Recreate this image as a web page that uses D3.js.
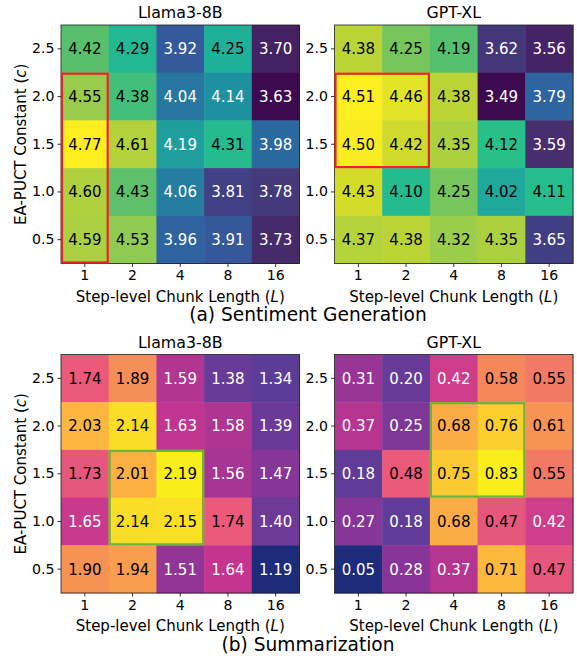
<!DOCTYPE html>
<html>
<head>
<meta charset="utf-8">
<script src="https://cdn.jsdelivr.net/npm/d3@7"></script>
<style>
  body { margin: 0; background: #fff; }
  svg text { font-family: "DejaVu Sans", sans-serif; fill: #000; }
</style>
</head>
<body>
<svg id="chart" width="577" height="658"></svg>
<script>
// chunk lengths (columns) and EA-PUCT constants (rows, top to bottom)
var chunkLengths = ["1", "2", "4", "8", "16"];
var puctConstants = ["2.5", "2.0", "1.5", "1.0", "0.5"];

var sentimentLlama = [
    [4.42, 4.29, 3.92, 4.25, 3.70],
    [4.55, 4.38, 4.04, 4.14, 3.63],
    [4.77, 4.61, 4.19, 4.31, 3.98],
    [4.60, 4.43, 4.06, 3.81, 3.78],
    [4.59, 4.53, 3.96, 3.91, 3.73]
];
var sentimentGpt = [
    [4.38, 4.25, 4.19, 3.62, 3.56],
    [4.51, 4.46, 4.38, 3.49, 3.79],
    [4.50, 4.42, 4.35, 4.12, 3.59],
    [4.43, 4.10, 4.25, 4.02, 4.11],
    [4.37, 4.38, 4.32, 4.35, 3.65]
];
var summaryLlama = [
    [1.74, 1.89, 1.59, 1.38, 1.34],
    [2.03, 2.14, 1.63, 1.58, 1.39],
    [1.73, 2.01, 2.19, 1.56, 1.47],
    [1.65, 2.14, 2.15, 1.74, 1.40],
    [1.90, 1.94, 1.51, 1.64, 1.19]
];
var summaryGpt = [
    [0.31, 0.20, 0.42, 0.58, 0.55],
    [0.37, 0.25, 0.68, 0.76, 0.61],
    [0.18, 0.48, 0.75, 0.83, 0.55],
    [0.27, 0.18, 0.68, 0.47, 0.42],
    [0.05, 0.28, 0.37, 0.71, 0.47]
];

// highlighted block: [first col, last col, first row, last row]
var highlightSentLlama = ["1", "1", "2.0", "0.5"];
var highlightSentGpt = ["1", "2", "2.0", "1.5"];
var highlightSumLlama = ["2", "4", "1.5", "1.0"];
var highlightSumGpt = ["4", "8", "2.0", "1.5"];

// colour maps as seen in the figure (viridis-like and plasma-like)
var viridisLike = d3.scaleLinear()
    .domain([0, 0.1, 0.2, 0.3, 0.45, 0.55, 0.62, 0.7, 0.82, 0.9, 1])
    .range(["#3e0a4f", "#47306f", "#3d4b94", "#2d66a0", "#1e92a0", "#1fb29a",
            "#28bf8a", "#5dc06a", "#a0ce48", "#c8d72e", "#fdee22"])
    .interpolate(d3.interpolateRgb);
var plasmaLike = d3.scaleLinear()
    .domain([0, 0.15, 0.3, 0.45, 0.55, 0.7, 0.84, 1])
    .range(["#1e2b7b", "#5b3d98", "#8b3597", "#c5358f", "#eb5a7a", "#f68f57",
            "#fdb63f", "#f8ee1a"])
    .interpolate(d3.interpolateRgb);

var svg = d3.select("#chart");

var panels = [
    { title: "Llama3-8B", data: sentimentLlama, cmap: viridisLike, box: highlightSentLlama, boxColor: "#e3262b", x0: 61, y0: 25, yLabel: true },
    { title: "GPT-XL", data: sentimentGpt, cmap: viridisLike, box: highlightSentGpt, boxColor: "#e3262b", x0: 334.5, y0: 25, yLabel: false },
    { title: "Llama3-8B", data: summaryLlama, cmap: plasmaLike, box: highlightSumLlama, boxColor: "#6db33f", x0: 61, y0: 354.5, yLabel: true },
    { title: "GPT-XL", data: summaryGpt, cmap: plasmaLike, box: highlightSumGpt, boxColor: "#6db33f", x0: 334.5, y0: 354.5, yLabel: false }
];

var size = 238.5;

panels.forEach(function (p) {
    var g = svg.append("g");
    var x = d3.scaleBand().domain(chunkLengths).range([p.x0, p.x0 + size]);
    var y = d3.scaleBand().domain(puctConstants).range([p.y0, p.y0 + size]);

    var flat = d3.merge(p.data);
    var norm = d3.scaleLinear().domain(d3.extent(flat)).range([0, 1]);

    var cells = [];
    p.data.forEach(function (row, ri) {
        row.forEach(function (v, ci) {
            cells.push({ r: puctConstants[ri], c: chunkLengths[ci], v: v });
        });
    });

    g.selectAll("rect.cell").data(cells).enter().append("rect")
        .attr("class", "cell")
        .attr("x", function (d) { return x(d.c); })
        .attr("y", function (d) { return y(d.r); })
        .attr("width", x.bandwidth() + 0.5)
        .attr("height", y.bandwidth() + 0.5)
        .attr("fill", function (d) { return p.cmap(norm(d.v)); });

    g.selectAll("text.val").data(cells).enter().append("text")
        .attr("class", "val")
        .attr("x", function (d) { return x(d.c) + x.bandwidth() / 2; })
        .attr("y", function (d) { return y(d.r) + y.bandwidth() / 2; })
        .attr("dy", "0.36em")
        .attr("text-anchor", "middle")
        .style("font-size", "15px")
        .style("fill", function (d) { return norm(d.v) < 0.5 ? "#fff" : "#000"; })
        .text(function (d) { return d.v.toFixed(2); });

    // frame
    g.append("rect")
        .attr("x", p.x0).attr("y", p.y0)
        .attr("width", size).attr("height", size)
        .attr("fill", "none").attr("stroke", "#222").attr("stroke-width", 0.8);

    // highlight box
    var bx0 = x(p.box[0]), bx1 = x(p.box[1]) + x.bandwidth();
    var by0 = y(p.box[2]), by1 = y(p.box[3]) + y.bandwidth();
    g.append("rect")
        .attr("x", bx0 + 1).attr("y", by0 + 1)
        .attr("width", bx1 - bx0 - 2).attr("height", by1 - by0 - 2)
        .attr("fill", "none").attr("stroke", p.boxColor).attr("stroke-width", 2.2);

    var xAxis = g.append("g")
        .attr("transform", "translate(0," + (p.y0 + size) + ")")
        .call(d3.axisBottom(x).tickSize(3.5).tickPadding(3));
    var yAxis = g.append("g")
        .attr("transform", "translate(" + p.x0 + ",0)")
        .call(d3.axisLeft(y).tickSize(3.5).tickPadding(3));
    [xAxis, yAxis].forEach(function (a) {
        a.select(".domain").remove();
        a.selectAll("line").attr("stroke", "#000").attr("stroke-width", 0.8);
        a.selectAll("text").style("font-size", "14.1px").attr("font-family", null);
    });

    g.append("text")
        .attr("x", p.x0 + size / 2).attr("y", p.y0 - 7)
        .attr("text-anchor", "middle")
        .style("font-size", "15.8px")
        .text(p.title);

    var xl = g.append("text")
        .attr("x", p.x0 + size / 2).attr("y", p.y0 + size + 38)
        .attr("text-anchor", "middle")
        .style("font-size", "15px");
    xl.append("tspan").text("Step-level Chunk Length (");
    xl.append("tspan").style("font-style", "italic").text("L");
    xl.append("tspan").text(")");

    if (p.yLabel) {
        var yl = g.append("text")
            .attr("transform", "translate(" + 26 + "," + (p.y0 + size / 2) + ") rotate(-90)")
            .attr("text-anchor", "middle")
            .style("font-size", "15px");
        yl.append("tspan").text("EA-PUCT Constant (");
        yl.append("tspan").style("font-style", "italic").text("c");
        yl.append("tspan").text(")");
    }
});

svg.append("text")
    .attr("x", 308).attr("y", 321)
    .attr("text-anchor", "middle")
    .style("font-size", "18.6px")
    .text("(a) Sentiment Generation");

svg.append("text")
    .attr("x", 308).attr("y", 651)
    .attr("text-anchor", "middle")
    .style("font-size", "18.6px")
    .text("(b) Summarization");
</script>
</body>
</html>
